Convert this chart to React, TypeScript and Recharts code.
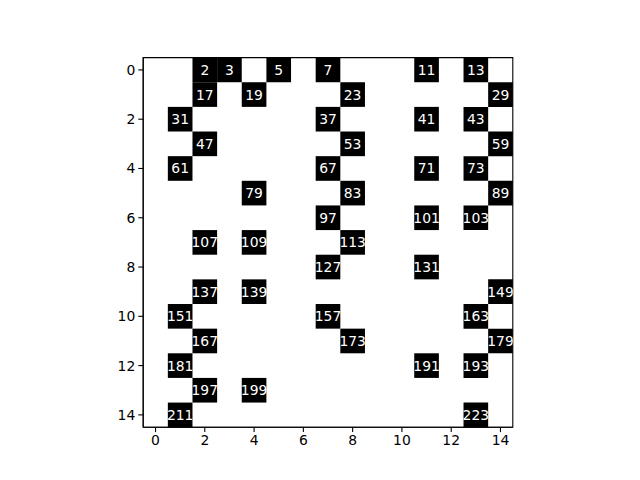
import { ReferenceArea, Scatter, ScatterChart, XAxis, YAxis } from 'recharts'

const gridSize = 15
const primes = [
  2, 3, 5, 7, 11, 13, 17, 19, 23, 29, 31, 37, 41, 43, 47, 53, 59, 61, 67, 71, 73, 79, 83, 89,
  97, 101, 103, 107, 109, 113, 127, 131, 137, 139, 149, 151, 157, 163, 167, 173, 179, 181,
  191, 193, 197, 199, 211, 223,
]
const xTicks = [0, 2, 4, 6, 8, 10, 12, 14]
const yTicks = [0, 2, 4, 6, 8, 10, 12, 14]

const cells = primes.map((n) => ({
  n,
  col: n % gridSize,
  row: Math.floor(n / gridSize),
}))

const font = 'DejaVu Sans, sans-serif'
const tickStyle = { fill: '#000', fontSize: 13.9, fontFamily: font }

function CellText(props: any) {
  const { cx, cy, payload } = props
  return (
    <text
      x={cx}
      y={cy}
      textAnchor="middle"
      dominantBaseline="central"
      fill="#fff"
      fontSize={13.9}
      fontFamily={font}
    >
      {payload.n}
    </text>
  )
}

export default function App() {
  return (
    <div style={{ position: 'absolute', left: 0, top: 0, width: 640, height: 480, background: '#fff' }}>
      <ScatterChart
        width={640}
        height={480}
        margin={{ top: 57.6, right: 127.2, bottom: 22.8, left: 103.2 }}
      >
        <XAxis
          type="number"
          dataKey="col"
          domain={[-0.5, 14.5]}
          ticks={xTicks}
          allowDataOverflow
          height={30}
          tick={tickStyle}
          tickSize={4.9}
          tickMargin={3}
          tickLine={{ stroke: '#000', strokeWidth: 1.1 }}
          axisLine={{ stroke: '#000', strokeWidth: 1.1 }}
        />
        <YAxis
          type="number"
          dataKey="row"
          domain={[-0.5, 14.5]}
          ticks={yTicks}
          reversed
          allowDataOverflow
          width={40}
          tick={tickStyle}
          tickSize={4.9}
          tickMargin={3}
          tickLine={{ stroke: '#000', strokeWidth: 1.1 }}
          axisLine={{ stroke: '#000', strokeWidth: 1.1 }}
        />
        {cells.map((c) => (
          <ReferenceArea
            key={c.n}
            x1={c.col - 0.5}
            x2={c.col + 0.5}
            y1={c.row - 0.5}
            y2={c.row + 0.5}
            fill="#000"
            fillOpacity={1}
            stroke="none"
          />
        ))}
        <ReferenceArea
          x1={-0.5}
          x2={14.5}
          y1={-0.5}
          y2={14.5}
          fill="none"
          stroke="#000"
          strokeWidth={1.1}
        />
        <Scatter data={cells} shape={<CellText />} isAnimationActive={false} />
      </ScatterChart>
    </div>
  )
}
